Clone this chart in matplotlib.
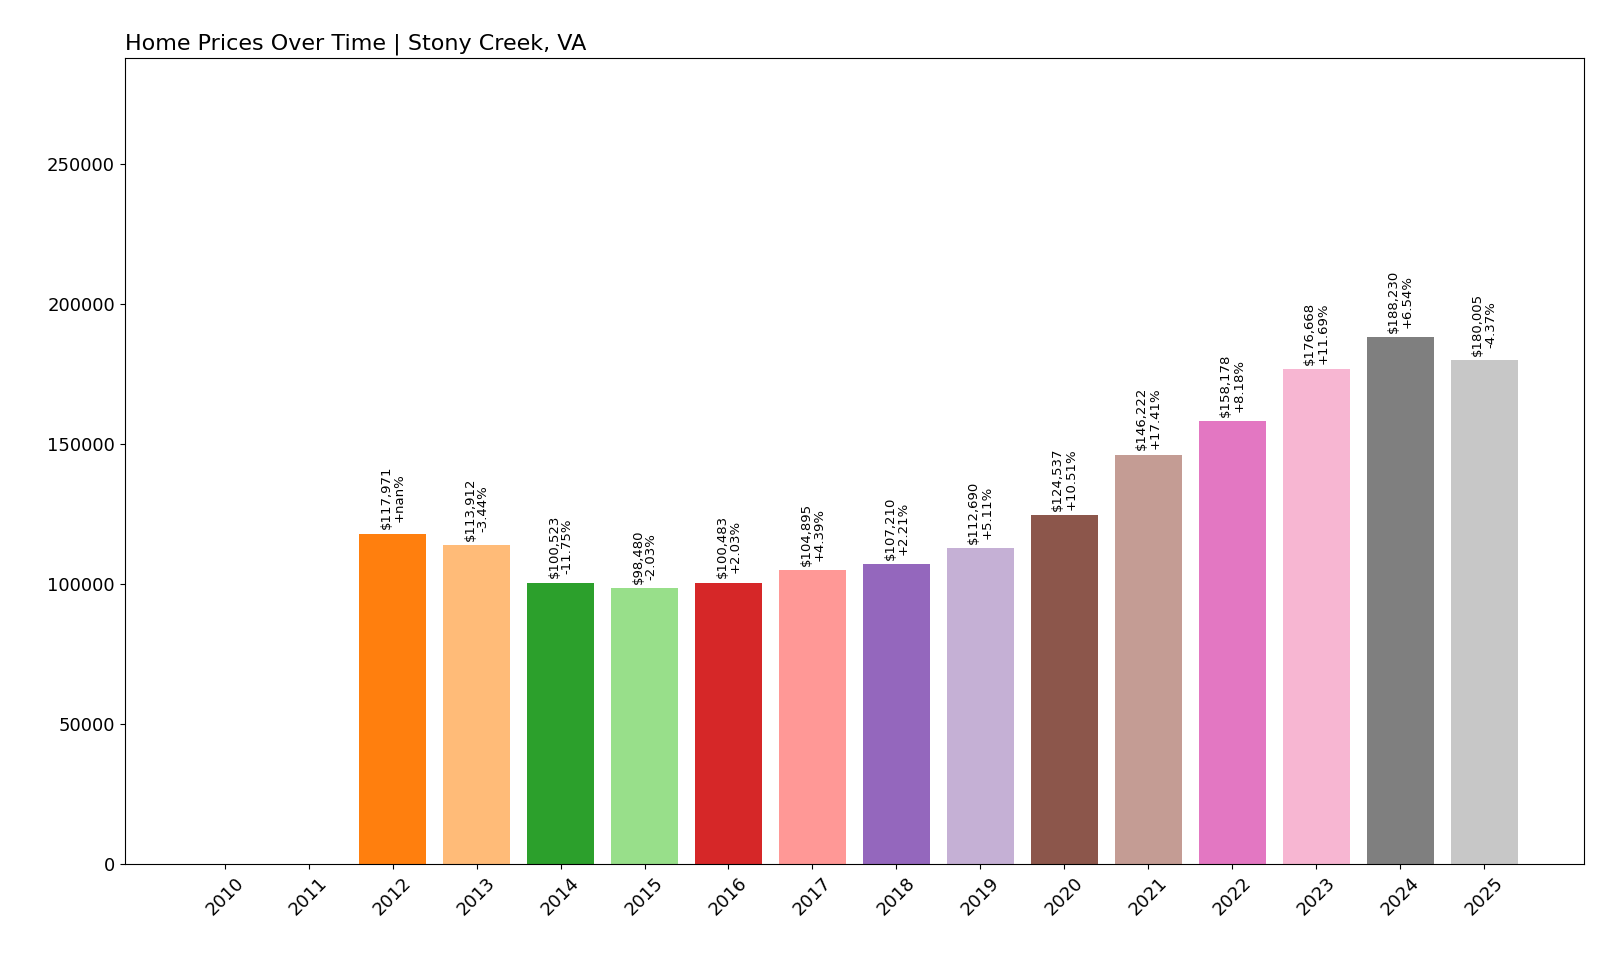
import numpy as np
import matplotlib.pyplot as plt

years = [str(y) for y in range(2010, 2026)]
prices = [0, 0, 117971, 113912, 100523, 98480, 100483, 104895, 107210,
          112690, 124537, 146222, 158178, 176668, 188230, 180005]
changes = [None, None, "+nan%", "-3.44%", "-11.75%", "-2.03%", "+2.03%", "+4.39%",
           "+2.21%", "+5.11%", "+10.51%", "+17.41%", "+8.18%", "+11.69%",
           "+6.54%", "-4.37%"]

colors = plt.get_cmap("tab20").colors
fig, ax = plt.subplots(figsize=(16, 9.6), dpi=100)
fig.subplots_adjust(left=0.078, right=0.99, top=0.94, bottom=0.1)

x = np.arange(len(years))
ax.bar(x, prices, color=[colors[i % 20] for i in range(len(years))])

for xi, p, c in zip(x, prices, changes):
    if c is None or p == 0:
        continue
    ax.text(xi, p + 1500, f"${p:,}\n{c}", rotation=90, ha="center", va="bottom",
            fontsize=9.5, linespacing=1.0)

ax.set_xticks(x)
ax.set_xticklabels(years, rotation=45, fontsize=13)
ax.tick_params(axis="y", labelsize=13)
ax.set_ylim(0, max(prices) * 1.53)
ax.set_title("Home Prices Over Time | Stony Creek, VA", loc="left", fontsize=16)

plt.savefig("out.png", dpi=100)
plt.close(fig)
